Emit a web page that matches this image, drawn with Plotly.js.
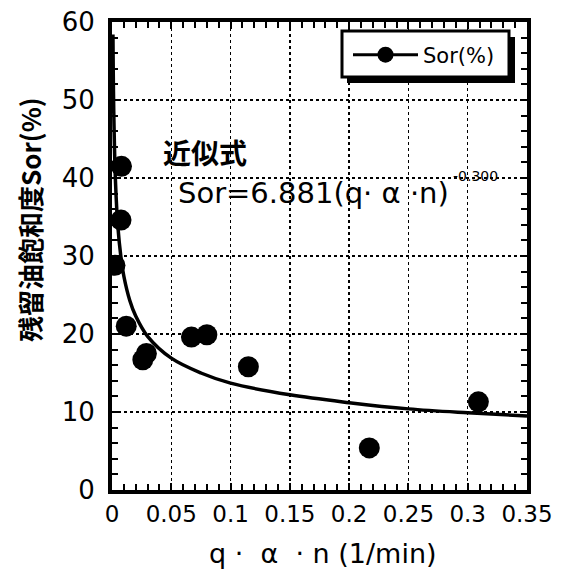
<!DOCTYPE html>
<html><head><meta charset="utf-8">
<script src="https://cdn.plot.ly/plotly-3.0.1.min.js"></script>
<style>body{margin:0;background:#fff}#chart{width:561px;height:571px}</style>
</head><body><div id="chart"></div>
<script>
// measured points
const qan = [0.0025, 0.008, 0.0076, 0.012, 0.029, 0.026, 0.067, 0.080, 0.115, 0.217, 0.309];
const sor = [28.8, 41.5, 34.6, 21.0, 17.5, 16.7, 19.6, 19.9, 15.8, 5.4, 11.3];
// fitted curve (Sor = 6.881 (q·α·n)^-0.300)
const fitX = [0.0008, 0.0015, 0.003, 0.005, 0.0075, 0.01, 0.015, 0.02, 0.03, 0.05, 0.075, 0.1, 0.15, 0.2, 0.25, 0.3, 0.35];
const fitY = [58.4, 48.4, 39.3, 33.7, 29.9, 27.4, 24.3, 22.3, 19.7, 16.9, 15.0, 13.7, 12.2, 11.2, 10.4, 9.9, 9.5];
const xTicks = [0, 0.05, 0.1, 0.15, 0.2, 0.25, 0.3, 0.35];
const xTickText = ['0', '0.05', '0.1', '0.15', '0.2', '0.25', '0.3', '0.35'];
const yTicks = [0, 10, 20, 30, 40, 50, 60];

const gd = document.getElementById('chart');
const traces = [
  {x: qan, y: sor, mode: 'markers', name: 'Sor(%)', marker: {color: '#000', size: 21}, showlegend: false},
  {x: [null], y: [null], mode: 'lines+markers', name: 'Sor(%)', marker: {color: '#000', size: 21}, line: {color: '#000', width: 3}, showlegend: true},
  {x: fitX, y: fitY, xaxis: 'x2', yaxis: 'y2', mode: 'lines', line: {color: '#000', width: 3.5, shape: 'spline'}, showlegend: false}
];
const layout = {
  width: 561, height: 571,
  margin: {l: 112, r: 34, t: 22, b: 81},
  xaxis: {
    range: [0, 0.35], tickmode: 'array', tickvals: xTicks, ticktext: xTickText,
    showline: true, linecolor: '#000', linewidth: 4, mirror: false,
    ticks: 'inside', ticklen: 7, tickwidth: 2, tickcolor: '#000',
    minor: {dtick: 0.01, tick0: 0, ticks: 'inside', ticklen: 6, tickwidth: 2, tickcolor: '#000'},
    showgrid: true, gridcolor: '#000', gridwidth: 1.5, griddash: 'dot', zeroline: false,
    tickfont: {family: 'DejaVu Sans', size: 23, color: '#000'}
  },
  yaxis: {
    range: [0, 60], tickmode: 'array', tickvals: yTicks,
    showline: true, linecolor: '#000', linewidth: 4, mirror: false,
    ticks: 'inside', ticklen: 7, tickwidth: 2, tickcolor: '#000',
    minor: {dtick: 2, tick0: 0, ticks: 'inside', ticklen: 6, tickwidth: 2, tickcolor: '#000'},
    showgrid: true, gridcolor: '#000', gridwidth: 1.5, griddash: 'dot', zeroline: false,
    tickfont: {family: 'DejaVu Sans', size: 26, color: '#000'},
    ticklabelstandoff: 8
  },
  xaxis2: {
    overlaying: 'x', side: 'top', anchor: 'y', range: [0, 0.35], tickmode: 'array', tickvals: xTicks,
    showline: true, linecolor: '#000', linewidth: 4, showticklabels: false,
    ticks: 'inside', ticklen: 7, tickwidth: 2, tickcolor: '#000',
    minor: {dtick: 0.01, tick0: 0, ticks: 'inside', ticklen: 6, tickwidth: 2, tickcolor: '#000'},
    showgrid: false, zeroline: false
  },
  yaxis2: {
    overlaying: 'y', side: 'right', anchor: 'x', range: [0, 60], tickmode: 'array', tickvals: yTicks,
    showline: true, linecolor: '#000', linewidth: 4, showticklabels: false,
    ticks: 'inside', ticklen: 7, tickwidth: 2, tickcolor: '#000',
    minor: {dtick: 2, tick0: 0, ticks: 'inside', ticklen: 6, tickwidth: 2, tickcolor: '#000'},
    showgrid: false, zeroline: false
  },
  legend: {x: (348-112)/415, y: (490-55)/468, xanchor: 'left', yanchor: 'middle',
    bgcolor: 'rgba(0,0,0,0)', borderwidth: 0, itemwidth: 65,
    font: {family: 'DejaVu Sans', size: 21, color: '#000'}},
  shapes: [
    {type: 'rect', xref: 'paper', yref: 'paper', layer: 'above',
     x0: (347-112)/415, x1: (515-112)/415, y0: (490-83)/468, y1: (490-37)/468,
     fillcolor: '#000', line: {width: 0}},
    {type: 'rect', xref: 'paper', yref: 'paper', layer: 'above',
     x0: (342-112)/415, x1: (509-112)/415, y0: (490-77)/468, y1: (490-31)/468,
     fillcolor: '#fff', line: {color: '#000', width: 3}}
  ],
  annotations: [
    {xref: 'paper', yref: 'paper', x: (29-112)/415, y: (490-220)/468, xanchor: 'center', yanchor: 'middle', showarrow: false,
     textangle: -90, text: '<b>残留油飽和度Sor(%)</b>', font: {family: 'Noto Sans CJK JP', size: 26, color: '#000'}},
    {xref: 'paper', yref: 'paper', x: (323-112)/415, y: (490-553)/468, xanchor: 'center', yanchor: 'middle', showarrow: false,
     text: 'q\u00a0·\u00a0\u00a0α\u00a0\u00a0·\u00a0n\u00a0(1/min)', font: {family: 'DejaVu Sans', size: 27, color: '#000'}},
    {xref: 'paper', yref: 'paper', x: (161-112)/415, y: (490-152)/468, xanchor: 'left', yanchor: 'middle', showarrow: false,
     text: '<b>近似式</b>', font: {family: 'Noto Sans CJK JP', size: 28, color: '#000'}},
    {xref: 'paper', yref: 'paper', x: (176-112)/415, y: (490-193)/468, xanchor: 'left', yanchor: 'middle', showarrow: false,
     text: 'Sor=6.881(q·\u00a0α\u00a0·n)', font: {family: 'DejaVu Sans', size: 29, color: '#000'}},
    {xref: 'paper', yref: 'paper', x: (451-112)/415, y: (490-176)/468, xanchor: 'left', yanchor: 'middle', showarrow: false,
     text: '-0.300', font: {family: 'DejaVu Sans', size: 14, color: '#000'}}
  ],
  showlegend: true,
  paper_bgcolor: '#fff', plot_bgcolor: '#fff'
};
Plotly.newPlot(gd, traces, layout, {displayModeBar: false, staticPlot: true});
</script></body></html>
